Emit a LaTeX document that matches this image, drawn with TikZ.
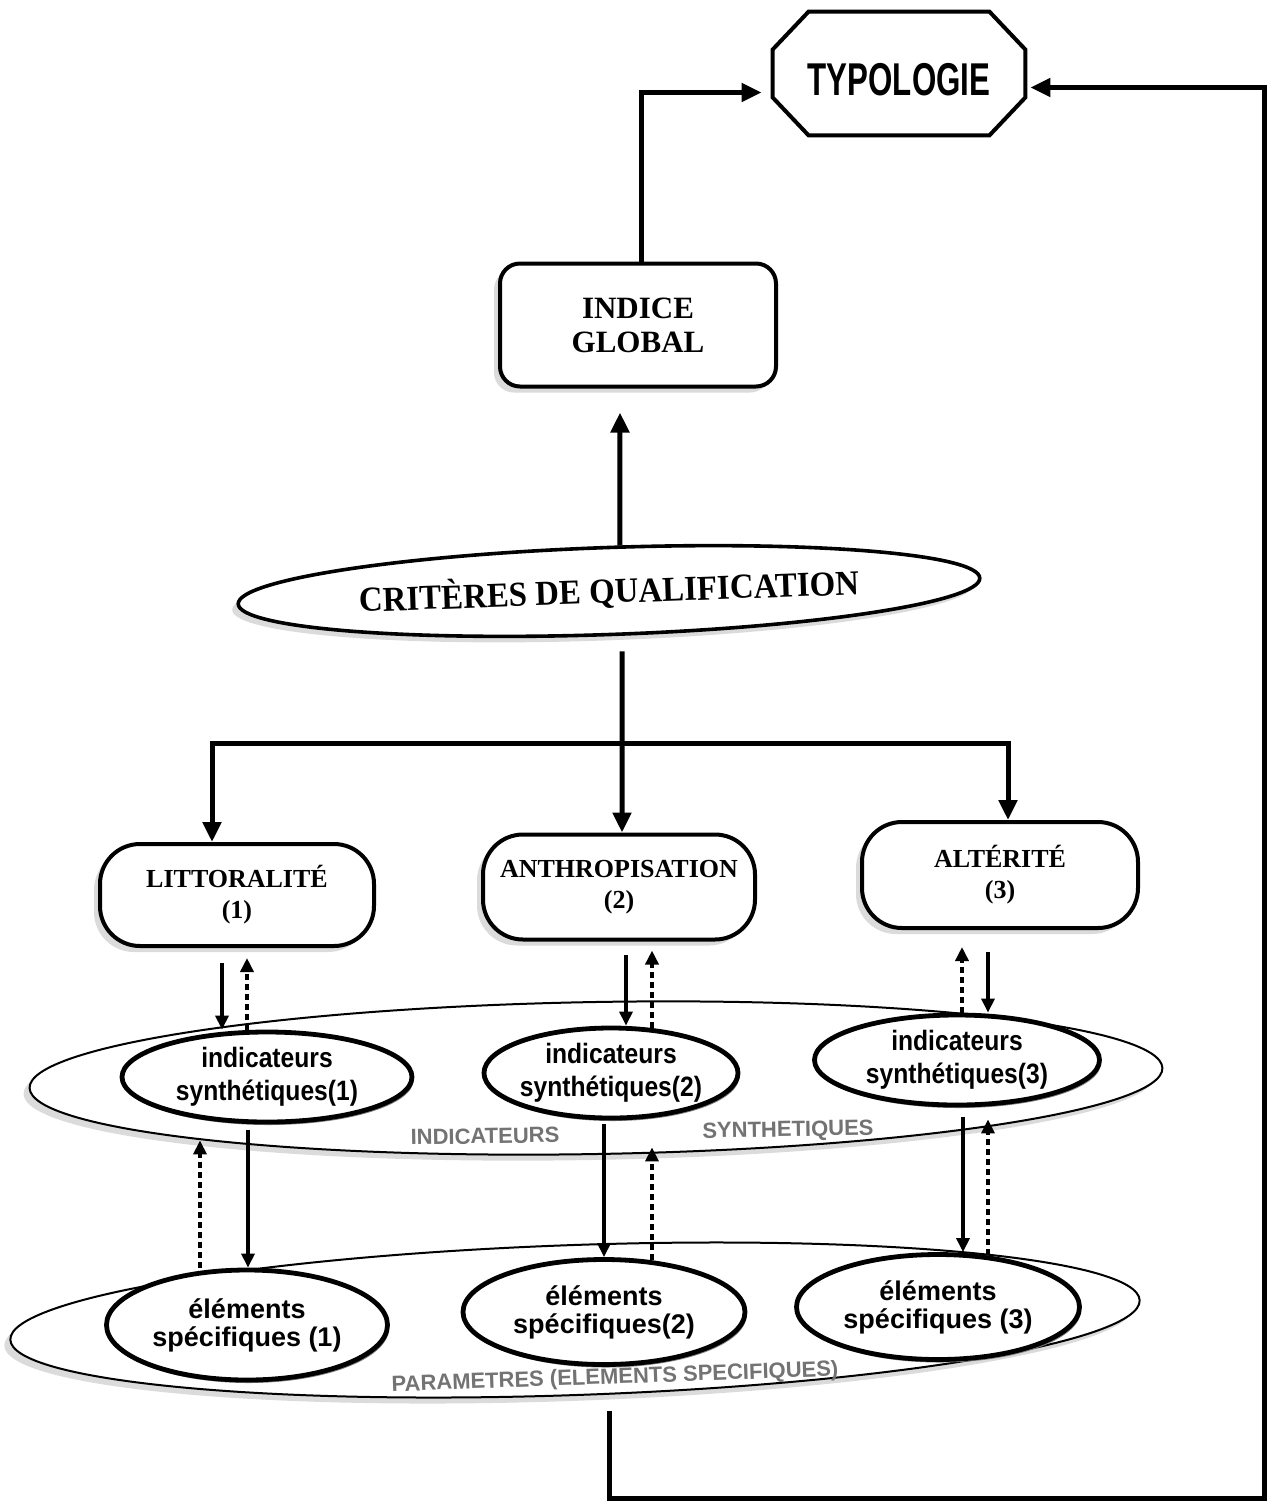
\documentclass[tikz,border=0pt]{standalone}
\usepackage{graphicx}
\usepackage{fontspec}
\setmainfont{Liberation Serif}
\setsansfont{Liberation Sans}
\usetikzlibrary{arrows.meta,shapes.geometric,calc,shadows}

\begin{document}
\begin{tikzpicture}[x=0.5pt,y=-0.5pt,
  outline/.style={line width=2pt},
  softshadow/.style={drop shadow={shadow xshift=-3pt,shadow yshift=-3pt,fill=black!14,opacity=1}},
  ringshadow/.style={drop shadow={shadow xshift=0.8pt,shadow yshift=-1.5pt,fill=black!50,opacity=1}},
  octbox/.style={minimum width=126pt,minimum height=61.5pt,inner sep=0pt},
  globbox/.style={draw,fill=white,line width=2pt,rounded corners=10pt,minimum width=138pt,
    minimum height=61.5pt,align=center,font=\fontsize{15.5}{17}\selectfont\bfseries,softshadow},
  critbox/.style={ellipse,draw,fill=white,line width=1.8pt,minimum width=371pt,minimum height=43.5pt,
    inner sep=1pt,font=\fontsize{17.5}{20}\selectfont\bfseries,softshadow},
  levelbox/.style={draw,fill=white,line width=2pt,rounded corners=20pt,minimum width=137pt,
    minimum height=51pt,align=center,font=\fontsize{13}{15.5}\selectfont\bfseries,softshadow},
  layer/.style={ellipse,draw,fill=white,line width=1pt,softshadow},
  ring/.style={ellipse,draw,fill=white,line width=2.4pt,ringshadow},
  ringtext/.style={align=center,font=\fontsize{14}{16.5}\selectfont\sffamily\bfseries,inner sep=0pt,transform shape},
  elemtext/.style={align=center,font=\fontsize{13.5}{14}\selectfont\sffamily\bfseries,inner sep=0pt},
  layerlabel/.style={text=black!55,font=\fontsize{11}{13}\selectfont\sffamily\bfseries,inner sep=0pt},
  mainarr/.style={line width=2.5pt,-{Triangle[length=10pt,width=9pt]}},
  downarr/.style={line width=1.6pt,-{Triangle[length=7pt,width=6.5pt]}},
  uparr/.style={line width=2pt,dash pattern=on 3pt off 2pt,-{Triangle[length=7pt,width=6.5pt]}},
]
\fill[white] (0,0) rectangle (1270,1506);
\useasboundingbox (0,0) rectangle (1270,1506);

% --- top: TYPOLOGIE (chamfered frame) ---
\node[octbox] (typ) at (899,73.5) {};
\node[inner sep=0pt] (typt) at (899,80) {\scalebox{0.68}[1]{\fontsize{23}{25}\selectfont\sffamily\bfseries TYPOLOGIE}};
\draw[outline] ([xshift=18pt]typ.north west) -- ([xshift=-18pt]typ.north east)
  -- ([yshift=-19pt]typ.north east) -- ([yshift=19pt]typ.south east)
  -- ([xshift=-18pt]typ.south east) -- ([xshift=18pt]typ.south west)
  -- ([yshift=19pt]typ.south west) -- ([yshift=-19pt]typ.north west) -- cycle;

% --- global index and qualification criteria ---
\node[globbox] (gl) at (638,325) {INDICE\\GLOBAL};
\node[critbox,rotate=2] (crit) at (609,591) {\scalebox{0.94}[1]{CRITÈRES DE QUALIFICATION}};

% --- the three criteria ---
\node[levelbox] (litt) at (237,895) {LITTORALITÉ\\(1)};
\node[levelbox,minimum width=136pt,minimum height=52.5pt] (antr) at (619,887) {ANTHROPISATION\\(2)};
\node[levelbox,minimum width=138pt,minimum height=53pt] (alt) at (1000,875) {ALTÉRITÉ\\(3)};

% --- layers ---
\node[layer,rotate=1,minimum width=566.5pt,minimum height=76pt] (synth) at (596,1078) {};
\node[layer,rotate=2,minimum width=565pt,minimum height=75pt] (params) at (575,1320) {};

\node[layerlabel,rotate=1] (synthA) at (485,1136) {INDICATEURS};
\node[layerlabel,rotate=1] (synthB) at (788,1131) {SYNTHETIQUES};
\node[layerlabel,rotate=2] (paramlab) at (615,1378) {PARAMETRES (ELEMENTS SPECIFIQUES)};

% synthetic indicators
\node[ring,minimum width=145pt,minimum height=45pt] (ind1) at (267,1077) {};
\node[ring,minimum width=127pt,minimum height=45pt] (ind2) at (611,1073) {};
\node[ring,minimum width=142.5pt,minimum height=45pt] (ind3) at (957,1060) {};
\node[ringtext,xscale=0.88] (ind1t) at (ind1) {indicateurs\\synthétiques(1)};
\node[ringtext,xscale=0.88] (ind2t) at (ind2) {indicateurs\\synthétiques(2)};
\node[ringtext,xscale=0.88] (ind3t) at (ind3) {indicateurs\\synthétiques(3)};

% specific elements
\node[ring,minimum width=140.5pt,minimum height=55pt] (el1) at (247,1325) {};
\node[ring,minimum width=141pt,minimum height=52.5pt] (el2) at (604,1312) {};
\node[ring,minimum width=141.5pt,minimum height=52.5pt] (el3) at (938,1307) {};
\node[elemtext] (el1t) at (el1) {éléments\\spécifiques (1)};
\node[elemtext] (el2t) at (el2) {éléments\\spécifiques(2)};
\node[elemtext] (el3t) at (el3) {éléments\\spécifiques (3)};

% --- main connectors ---
\draw[mainarr] ([xshift=1.5pt]gl.north) |- ($(typ.west)+(-11,19)$);
\draw[mainarr] ($(crit.north)+(12.5,0)$) -- ($(gl.south)+(-18,24)$);
\draw[mainarr] ($(crit.south)+(11.5,15)$) -- ($(antr.north)+(3,0)$);
\coordinate (fork) at ($(crit.south)+(11.5,107)$);
\draw[mainarr] (fork) -| ($(litt.north)+(-25,0)$);
\draw[mainarr] (fork) -| ($(alt.north)+(8,0)$);

\coordinate (loopcorner) at (1264,1498);
\draw[mainarr] ($(params.south)+(32,15)$) |- (loopcorner) |- ($(typ.east)+(5,14)$);

% --- criteria <-> synthetic indicators ---
\draw[downarr] ($(litt.south)+(-15,15)$) -- ($(ind1.north)+(-45,0)$);
\draw[uparr]   ($(ind1.north)+(-20,0)$) -- ($(litt.south)+(10,10)$);
\draw[downarr] ($(antr.south)+(7,13.5)$) -- ($(ind2.north)+(15,0)$);
\draw[uparr]   ($(ind2.north)+(41,2)$) -- ($(antr.south)+(33,9)$);
\draw[uparr]   ($(ind3.north)+(5,0)$) -- ($(alt.south)+(-38,17)$);
\draw[downarr] ($(alt.south)+(-12,22)$) -- ($(ind3.north)+(31,0)$);

% --- synthetic indicators <-> specific elements ---
\draw[uparr]   ($(el1.north)+(-47,0)$) -- ($(ind1.south)+(-67,16)$);
\draw[downarr] ($(ind1.south)+(-19,6)$) -- ($(el1.north)+(1,0)$);
\draw[downarr] ($(ind2.south)+(-7,4)$) -- (el2.north);
\draw[uparr]   ($(el2.north)+(48,3)$) -- ($(ind2.south)+(41,27)$);
\draw[downarr] ($(ind3.south)+(6,10)$) -- ($(el3.north)+(25,0)$);
\draw[uparr]   ($(el3.north)+(50,3)$) -- ($(ind3.south)+(31,12)$);
\end{tikzpicture}
\end{document}
